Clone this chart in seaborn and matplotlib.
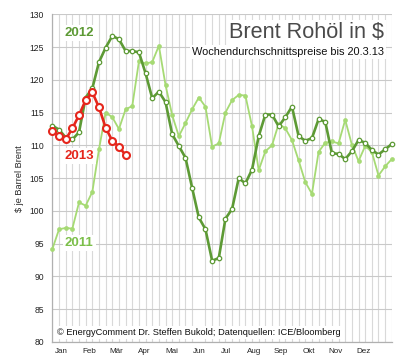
import seaborn as sns
import matplotlib.pyplot as plt
import pandas as pd
from matplotlib.ticker import MultipleLocator

# weekly averages, index 0 = first week of the year
weeks = list(range(52))
brent_2011 = [94.2, 97.2, 97.4, 97.3, 101.3, 100.8, 102.9, 109.4, 115.0, 114.3,
              112.5, 115.5, 116.0, 122.8, 122.5, 122.7, 125.2, 119.2, 114.6, 111.4,
              113.4, 115.5, 117.3, 115.9, 109.8, 110.3, 115.0, 116.9, 117.7, 117.6,
              112.9, 106.2, 109.1, 110.0, 113.3, 112.6, 110.8, 107.7, 104.4, 102.6,
              109.0, 110.4, 110.6, 110.3, 113.9, 110.1, 107.6, 109.9, 109.0, 105.4,
              106.8, 107.9]
brent_2012 = [113.0, 112.4, 111.2, 110.9, 112.0, 117.3, 118.7, 122.7, 124.9, 126.7,
              126.2, 124.4, 124.4, 124.2, 121.0, 117.2, 118.2, 116.6, 111.7, 109.9,
              108.1, 103.5, 99.0, 97.2, 92.4, 92.8, 98.8, 100.3, 105.0, 104.2,
              106.3, 111.4, 114.7, 114.7, 112.9, 114.3, 115.9, 111.4, 110.7, 111.1,
              114.0, 113.6, 108.8, 108.7, 107.9, 109.1, 110.8, 110.4, 109.3, 108.6,
              109.4, 110.2]
brent_2013 = [112.2, 111.5, 110.9, 112.6, 114.6, 116.9, 118.1, 115.8, 112.7, 110.7,
              109.8, 108.5]
months = ['Jan', 'Feb', 'Mär', 'Apr', 'Mai', 'Jun',
          'Jul', 'Aug', 'Sep', 'Okt', 'Nov', 'Dez']
y_ticks = [80, 85, 90, 95, 100, 105, 110, 115, 120, 125, 130]

c11 = '#a6da74'
c12 = '#5d9a35'
c13 = '#e5261c'

sns.set_style('white')
plt.rcParams['font.family'] = ['Liberation Sans', 'DejaVu Sans']

fig = plt.figure(figsize=(4, 3.59), dpi=100, facecolor='white')
ax = fig.add_axes([0.131, 0.0474, 0.8485, 0.9128])

d11 = pd.DataFrame({'week': weeks, 'price': brent_2011})
d12 = pd.DataFrame({'week': weeks, 'price': brent_2012})
d13 = pd.DataFrame({'week': weeks[:len(brent_2013)], 'price': brent_2013})

sns.lineplot(data=d11, x='week', y='price', ax=ax, color=c11, lw=1.3,
             marker='o', markersize=3.4, markeredgewidth=0,
             markerfacecolor=c11, zorder=3, clip_on=False)
sns.lineplot(data=d12, x='week', y='price', ax=ax, color=c12, lw=1.9,
             marker='o', markersize=3.2, markeredgewidth=0.9,
             markeredgecolor=c12, markerfacecolor='white', zorder=4, clip_on=False)
sns.lineplot(data=d13, x='week', y='price', ax=ax, color=c13, lw=1.9,
             marker='o', markersize=5, markeredgewidth=1.5,
             markeredgecolor=c13, markerfacecolor='white', zorder=5, clip_on=False)

ax.set_xlim(0, 51)
ax.set_ylim(80, 130)
ax.set_yticks(y_ticks)
ax.set_xticks([1.4 + 4.12 * k for k in range(12)])
ax.set_xticklabels(months)
ax.xaxis.set_minor_locator(MultipleLocator(1))

ax.grid(False)
ax.yaxis.grid(True, which='major', color='#c9c9c9', lw=0.8, zorder=0)
ax.xaxis.grid(True, which='minor', color='#d9d9d9', lw=0.8, zorder=0)
ax.set_axisbelow(True)

for s in ['top', 'right']:
    ax.spines[s].set_visible(False)
for s in ['left', 'bottom']:
    ax.spines[s].set_color('#b0b0b0')
    ax.spines[s].set_linewidth(0.9)

ax.tick_params(axis='y', which='major', length=0, pad=6, labelsize=6.2, colors='#222222')
ax.tick_params(axis='x', which='major', length=0, pad=4, labelsize=5.8, colors='#222222')
ax.tick_params(axis='x', which='minor', length=1.5, color='#b0b0b0', width=0.6)
ax.set_xlabel('')
ax.set_ylabel('$ je Barrel Brent', fontsize=6.6, labelpad=4)

box = dict(facecolor='white', edgecolor='none', pad=1.5)
ax.text(49.8, 127.2, 'Brent Rohöl in $', ha='right', va='center',
        fontsize=15.6, color='#4a4a4a', bbox=box, zorder=6)
ax.text(49.8, 124.2, 'Wochendurchschnittspreise bis 20.3.13', ha='right', va='center',
        fontsize=7.9, color='#111111', bbox=box, zorder=6)

ax.text(4.0, 127.1, '2012', ha='center', va='center', fontsize=9.5,
        fontweight='bold', color=c12, bbox=box, zorder=6)
ax.text(4.0, 108.4, '2013', ha='center', va='center', fontsize=9.5,
        fontweight='bold', color=c13, bbox=box, zorder=6)
ax.text(4.0, 95.1, '2011', ha='center', va='center', fontsize=9.5,
        fontweight='bold', color='#7cbf4a', bbox=box, zorder=6)

ax.text(0.7, 81.4, '© EnergyComment Dr. Steffen Bukold; Datenquellen: ICE/Bloomberg',
        ha='left', va='center', fontsize=6.7, color='#111111', bbox=box, zorder=6)

fig.savefig('out.png', dpi=100, facecolor='white')
